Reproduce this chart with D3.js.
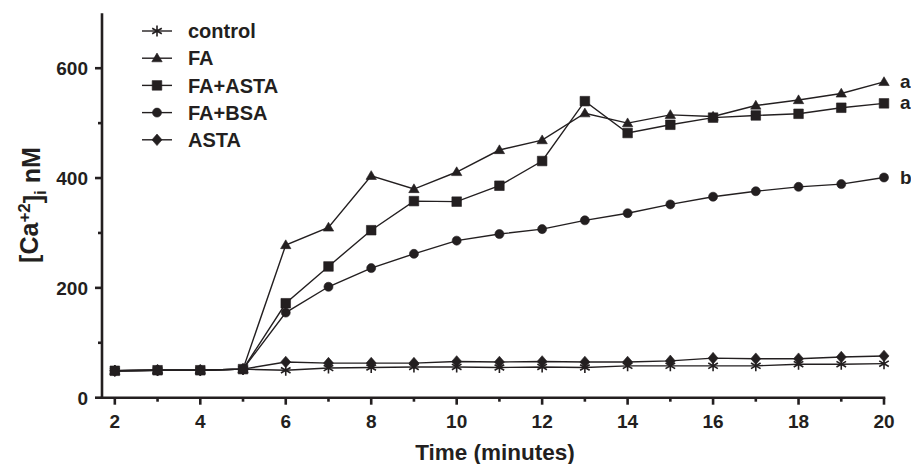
<!DOCTYPE html>
<html>
<head>
<meta charset="utf-8">
<script src="https://cdn.jsdelivr.net/npm/d3@7"></script>
<style>
  body { margin: 0; background: #fff; }
  text { font-family: "Liberation Sans", Arial, sans-serif; font-weight: bold; fill: #231f20; }
</style>
</head>
<body>
<div id="chart"></div>
<script>
// time points (minutes)
const times = [2, 3, 4, 5, 6, 7, 8, 9, 10, 11, 12, 13, 14, 15, 16, 17, 18, 19, 20];

// [Ca+2]i nM for each group
const control = [49, 50, 50, 52, 50, 54, 55, 56, 56, 55, 56, 55, 58, 58, 58, 58, 61, 61, 62];
const fa      = [49, 50, 50, 52, 278, 310, 404, 380, 411, 451, 469, 518, 500, 515, 512, 532, 542, 554, 575];
const faAsta  = [49, 50, 50, 52, 172, 239, 305, 358, 357, 386, 431, 540, 482, 497, 510, 514, 517, 528, 536];
const faBsa   = [49, 50, 50, 52, 155, 202, 236, 262, 286, 298, 307, 323, 336, 352, 366, 376, 384, 389, 401];
const asta    = [49, 50, 50, 52, 65, 63, 63, 63, 66, 65, 66, 65, 65, 67, 72, 71, 71, 74, 76];

const seriesNames = ["control", "FA", "FA+ASTA", "FA+BSA", "ASTA"];
const seriesShapes = ["star", "triangle", "square", "circle", "diamond"];
const seriesValues = [control, fa, faAsta, faBsa, asta];

// significance letters at the end of the curves
const letters = [
  { label: "a", series: "FA" },
  { label: "a", series: "FA+ASTA" },
  { label: "b", series: "FA+BSA" }
];

const xTicks = [2, 4, 6, 8, 10, 12, 14, 16, 18, 20];
const xMinor = [3, 5, 7, 9, 11, 13, 15, 17, 19];
const yTicks = [0, 200, 400, 600];
const yMinor = [100, 300, 500];

const width = 911, height = 464;
const ink = "#231f20";

const svg = d3.select("#chart")
  .append("svg")
  .attr("width", width)
  .attr("height", height);

const x = d3.scaleLinear().domain([1.7, 20]).range([102, 884]);
const y = d3.scaleLinear().domain([0, 700]).range([397.7, 13.3]);

// marker paths centred on 0,0
function marker(shape) {
  switch (shape) {
    case "star":
      return "M0,-5.5V5.5M-4.8,-2.8L4.8,2.8M-4.8,2.8L4.8,-2.8";
    case "triangle":
      return "M0,-5.2L5.2,3.6L-5.2,3.6Z";
    case "square":
      return "M-4.8,-4.8H4.8V4.8H-4.8Z";
    case "circle":
      return d3.symbol(d3.symbolCircle, 64)();
    case "diamond":
      return "M0,-5.8L5,0L0,5.8L-5,0Z";
  }
}

function drawMarker(g, shape) {
  g.append("path")
    .attr("d", marker(shape))
    .attr("fill", shape == "star" ? "none" : ink)
    .attr("stroke", ink)
    .attr("stroke-width", shape == "star" ? 1.6 : 0.6);
}

const line = d3.line()
  .x(d => x(d.t))
  .y(d => y(d.v));

// draw bottom groups first so the rising curves sit on top
const drawOrder = [0, 4, 3, 2, 1];
drawOrder.forEach(function (i) {
  const pts = times.map((t, j) => ({ t: t, v: seriesValues[i][j] }));
  const g = svg.append("g").attr("class", "series");
  g.append("path")
    .datum(pts)
    .attr("d", line)
    .attr("fill", "none")
    .attr("stroke", ink)
    .attr("stroke-width", 1.4);
  g.selectAll("g.pt")
    .data(pts)
    .enter()
    .append("g")
    .attr("class", "pt")
    .attr("transform", d => "translate(" + x(d.t) + "," + y(d.v) + ")")
    .each(function () { drawMarker(d3.select(this), seriesShapes[i]); });
});

// axes
const axisG = svg.append("g").attr("stroke", ink).attr("stroke-width", 2.6);
axisG.append("line")
  .attr("x1", x.range()[0]).attr("x2", x.range()[0])
  .attr("y1", y.range()[1]).attr("y2", y.range()[0] + 1.3);
axisG.append("line")
  .attr("x1", x.range()[0] - 1.3).attr("x2", x.range()[1] + 1.3)
  .attr("y1", y.range()[0]).attr("y2", y.range()[0]);

axisG.selectAll("line.xmaj")
  .data(xTicks).enter().append("line")
  .attr("class", "xmaj")
  .attr("x1", x).attr("x2", x)
  .attr("y1", y.range()[0]).attr("y2", y.range()[0] + 7);
axisG.selectAll("line.xmin")
  .data(xMinor).enter().append("line")
  .attr("class", "xmin")
  .attr("x1", x).attr("x2", x)
  .attr("y1", y.range()[0]).attr("y2", y.range()[0] + 4);
axisG.selectAll("line.ymaj")
  .data(yTicks).enter().append("line")
  .attr("class", "ymaj")
  .attr("y1", y).attr("y2", y)
  .attr("x1", x.range()[0]).attr("x2", x.range()[0] - 7);
axisG.selectAll("line.ymin")
  .data(yMinor).enter().append("line")
  .attr("class", "ymin")
  .attr("y1", y).attr("y2", y)
  .attr("x1", x.range()[0]).attr("x2", x.range()[0] - 4);

svg.selectAll("text.xlab")
  .data(xTicks).enter().append("text")
  .attr("class", "xlab")
  .attr("x", x)
  .attr("y", 428)
  .attr("text-anchor", "middle")
  .style("font-size", "19px")
  .text(d => d);

svg.selectAll("text.ylab")
  .data(yTicks).enter().append("text")
  .attr("class", "ylab")
  .attr("x", 88)
  .attr("y", d => y(d))
  .attr("dy", "0.36em")
  .attr("text-anchor", "end")
  .style("font-size", "19px")
  .text(d => d);

// axis titles
svg.append("text")
  .attr("x", 495)
  .attr("y", 460)
  .attr("text-anchor", "middle")
  .style("font-size", "22.5px")
  .text("Time (minutes)");

const yTitle = svg.append("text")
  .attr("transform", "translate(38,205) rotate(-90)")
  .attr("text-anchor", "middle")
  .style("font-size", "25px");
yTitle.append("tspan").text("[Ca");
yTitle.append("tspan").attr("dy", "-0.45em").style("font-size", "17px").text("+2");
yTitle.append("tspan").attr("dy", "0.45em").text("]");
yTitle.append("tspan").attr("dy", "0.25em").style("font-size", "17px").text("i");
yTitle.append("tspan").attr("dy", "-0.25em").text(" nM");

// legend
const legend = svg.append("g").attr("class", "legend");
seriesNames.forEach(function (name, i) {
  const row = legend.append("g")
    .attr("transform", "translate(0," + (31 + i * 27.2) + ")");
  row.append("line")
    .attr("x1", 142).attr("x2", 172)
    .attr("stroke", ink).attr("stroke-width", 1.4);
  drawMarker(row.append("g").attr("transform", "translate(157,0)"), seriesShapes[i]);
  row.append("text")
    .attr("x", 188)
    .attr("dy", "0.36em")
    .style("font-size", "20px")
    .text(name);
});

// letters beside the last points
letters.forEach(function (l) {
  const i = seriesNames.indexOf(l.series);
  const last = seriesValues[i][seriesValues[i].length - 1];
  svg.append("text")
    .attr("x", x(20) + 16)
    .attr("y", y(last))
    .attr("dy", l.label == "b" ? "0.36em" : "0.3em")
    .style("font-size", "19px")
    .text(l.label);
});
</script>
</body>
</html>
